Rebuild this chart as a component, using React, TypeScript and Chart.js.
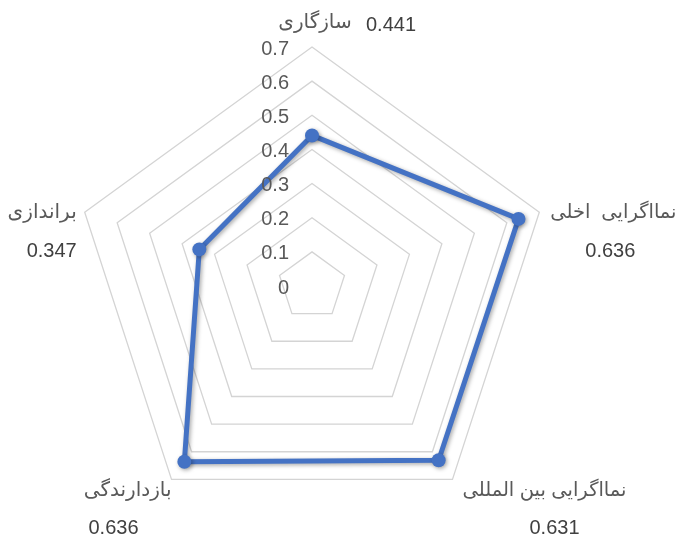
import React, { useEffect, useRef } from "react";
import { Chart, registerables } from "chart.js";

Chart.register(...registerables);

const categories = ["سازگاری", "نمااگرایی  اخلی", "نمااگرایی بین المللی", "بازدارندگی", "براندازی"];
const values = [0.441, 0.636, 0.631, 0.636, 0.347];
const valueLabels = ["0.441", "0.636", "0.631", "0.636", "0.347"];
const tickValues = [0, 0.1, 0.2, 0.3, 0.4, 0.5, 0.6, 0.7];
const tickLabels = ["0", "0.1", "0.2", "0.3", "0.4", "0.5", "0.6", "0.7"];

const FONT = '"Liberation Sans", "DejaVu Sans", sans-serif';

// per-label text placement relative to the outer vertex of each axis
const labelLayout = [
  { nAlign: "center", ndx: 3, ndy: -25, nSize: 20, vAlign: "left", vdx: 54, vdy: -22 },
  { nAlign: "left", ndx: 11, ndy: 0, nSize: 19.5, vAlign: "center", vdx: 71, vdy: 39 },
  { nAlign: "left", ndx: 10, ndy: 11, nSize: 19.5, vAlign: "center", vdx: 102, vdy: 49 },
  { nAlign: "right", ndx: 0, ndy: 11, nSize: 20, vAlign: "center", vdx: -58, vdy: 49 },
  { nAlign: "right", ndx: -8, ndy: 0, nSize: 20, vAlign: "center", vdx: -33, vdy: 39 },
];

const shadowPlugin = {
  id: "lineShadow",
  beforeDatasetsDraw(chart: any) {
    const ctx = chart.ctx;
    ctx.save();
    ctx.shadowColor = "rgba(0,0,0,0.35)";
    ctx.shadowBlur = 4;
    ctx.shadowOffsetX = 1.5;
    ctx.shadowOffsetY = 1.5;
  },
  afterDatasetsDraw(chart: any) {
    chart.ctx.restore();
  },
};

const labelPlugin = {
  id: "customLabels",
  afterDraw(chart: any) {
    const scale = chart.scales.r;
    const ctx = chart.ctx;
    const R = scale.getDistanceFromCenterForValue(scale.max);
    ctx.save();
    ctx.textBaseline = "middle";
    // tick labels
    ctx.font = `20px ${FONT}`;
    ctx.fillStyle = "#595959";
    ctx.textAlign = "right";
    tickValues.forEach((v, i) => {
      const d = scale.getDistanceFromCenterForValue(v);
      ctx.fillText(tickLabels[i], scale.xCenter - 23, scale.yCenter - d + 2);
    });
    // point labels + values
    categories.forEach((name, i) => {
      const p = scale.getPointPosition(i, R);
      const L = labelLayout[i];
      ctx.font = `${L.nSize}px ${FONT}`;
      ctx.fillStyle = "#595959";
      ctx.textAlign = L.nAlign;
      ctx.fillText(name, p.x + L.ndx, p.y + L.ndy);
      ctx.font = `20px ${FONT}`;
      ctx.fillStyle = "#404040";
      ctx.textAlign = L.vAlign;
      ctx.fillText(valueLabels[i], p.x + L.vdx, p.y + L.vdy);
    });
    ctx.restore();
  },
};

export default function App() {
  const ref = useRef<HTMLCanvasElement>(null);
  useEffect(() => {
    document.body.style.margin = "0";
    const chart = new Chart(ref.current as HTMLCanvasElement, {
      type: "radar",
      data: {
        labels: categories,
        datasets: [
          {
            data: values,
            borderColor: "#4472C4",
            backgroundColor: "#4472C4",
            borderWidth: 5,
            fill: false,
            pointRadius: 7,
            pointBorderWidth: 0,
            pointBackgroundColor: "#4472C4",
            borderJoinStyle: "round",
          } as any,
        ],
      },
      options: {
        responsive: false,
        animation: false,
        layout: { padding: { left: 73, right: 131, top: 47, bottom: 13 } },
        plugins: { legend: { display: false }, tooltip: { enabled: false } },
        scales: {
          r: {
            min: 0,
            max: 0.7,
            ticks: { display: false, stepSize: 0.1 },
            grid: { color: "#d4d4d4", lineWidth: 1.3 },
            angleLines: { display: false },
            pointLabels: { display: false },
          },
        },
      } as any,
      plugins: [shadowPlugin, labelPlugin],
    });
    return () => chart.destroy();
  }, []);
  return (
    <div style={{ position: "absolute", left: 0, top: 0, width: 682, height: 538, background: "#fff" }}>
      <canvas ref={ref} width={682} height={538} />
    </div>
  );
}
